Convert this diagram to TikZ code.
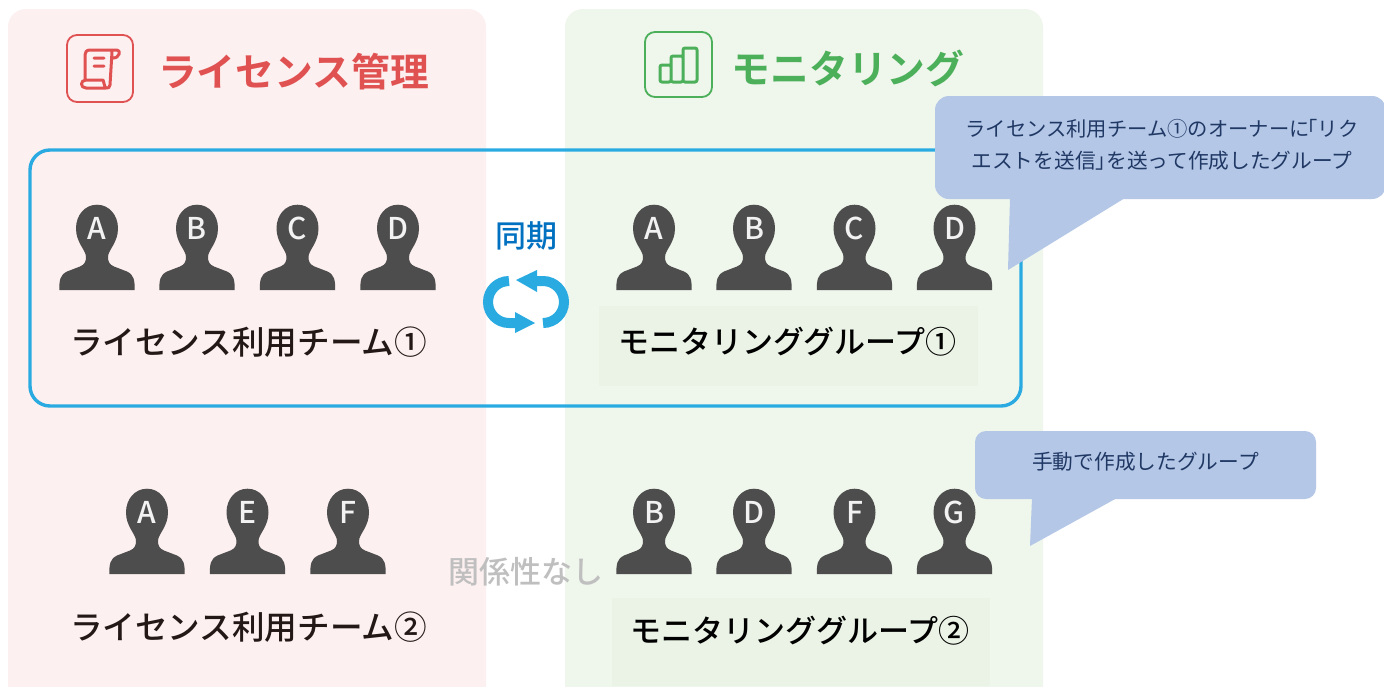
\documentclass[tikz,border=0pt]{standalone}
\usepackage{fontspec}
\setmainfont{Noto Sans CJK JP}
\newfontfamily\jpbold{Noto Sans CJK JP Bold}
\newfontfamily\jpmed{Noto Sans CJK JP Medium}
\definecolor{panelred}{HTML}{FDF0F0}
\definecolor{panelgreen}{HTML}{EFF6EC}
\definecolor{boxgreen}{HTML}{EAF3E5}
\definecolor{titlered}{HTML}{E05252}
\definecolor{titlegreen}{HTML}{4CAF5A}
\definecolor{syncblue}{HTML}{29ABE2}
\definecolor{syncword}{HTML}{0070C0}
\definecolor{callout}{HTML}{B4C7E7}
\definecolor{callouttext}{HTML}{203864}
\definecolor{persongray}{HTML}{4D4D4D}
\definecolor{inktext}{HTML}{231815}
\tikzset{
  txt/.style={inner sep=0pt,outer sep=0pt,anchor=center},
  panel/.style={fill=#1,draw=none,rounded corners=18pt},
  iconbox/.style={draw=#1,line width=1.8pt,rounded corners=10pt},
  iconline/.style={draw=#1,line width=3pt,line cap=round,line join=round},
  persontxt/.style={txt,text=white!95!black,font=\jpmed\fontsize{30}{30}\selectfont},
  teamlabel/.style={txt,text=inktext,font=\jpmed\fontsize{32.6}{32.6}\selectfont},
  grouplabel/.style={txt,text=black,font=\jpmed\fontsize{31}{31}\selectfont},
  titlelabel/.style={txt,text=#1,font=\jpbold\fontsize{38.8}{38.8}\selectfont},
  calloutshape/.style={fill=callout,draw=none},
  calloutlabel/.style={txt,text=callouttext,align=center,font=\fontsize{20.7}{32.5}\selectfont},
  syncarrow/.style={draw=syncblue,line width=10pt,line cap=butt},
}
\newcommand{\personfig}[4]{%
  \fill[persongray,shift={(#2,#3)}] (-37.7,0) .. controls (-37.7,-10) and (-37,-15) .. (-30,-18.5) -- (-17,-23.5)
    .. controls (-12,-25.5) and (-11,-29) .. (-11,-33) .. controls (-11,-40) and (-21,-47) .. (-21,-61.7)
    .. controls (-21,-75) and (-12,-85.3) .. (0,-85.3) .. controls (12,-85.3) and (21,-75) .. (21,-61.7)
    .. controls (21,-47) and (11,-40) .. (11,-33) .. controls (11,-29) and (12,-25.5) .. (17,-23.5)
    -- (30,-18.5) .. controls (37,-15) and (37.7,-10) .. (37.7,0) -- cycle;
  \node[persontxt] (#1) at (#2,#3-62) {#4};%
}
\begin{document}
\begin{tikzpicture}[x=1pt,y=-1pt]
\useasboundingbox (0,0) rectangle (1384,686);
\clip (0,0) rectangle (1384,686);
\fill[white] (0,0) rectangle (1384,686);
% panels
\path[panel=panelred] (8,9) rectangle (486,710);
\path[panel=panelgreen] (565,9) rectangle (1043,710);
% inner group boxes
\fill[boxgreen] (599,306) rectangle (978,386);
\fill[boxgreen] (612,598) rectangle (990,686);
% title icons
\draw[iconbox=titlered] (67,35) rectangle (133,102);
\draw[iconline=titlered] (117,50) -- (90,50) .. controls (86.5,50) and (85,52) .. (85,55) -- (85,80)
  (117,50) .. controls (121,50) and (120,58) .. (113,58)
  (112,52) -- (110,85) .. controls (110,88) and (108,88) .. (106,88) -- (86,88)
  .. controls (80,88) and (80,80) .. (86,80) -- (103,80) .. controls (104,82) and (104,86) .. (106,88)
  (94,58) -- (104,58) (94,66) -- (104,66);
\draw[iconbox=titlegreen] (645,32) rectangle (712,97);
\draw[iconline=titlegreen,rounded corners=2pt] (660,82) rectangle (671,65)
  (671,82) rectangle (683,56) (683,82) rectangle (697,48);
\node[titlelabel=titlered] (title1) at (293.5,72) {ライセンス管理};
\node[titlelabel=titlegreen] (title2) at (848,68) {モニタリング};
% sync frame
\draw[syncblue,line width=3.4pt,rounded corners=20pt] (30,150) rectangle (1021,406);
% persons
\personfig{p1a}{97}{290}{A}\personfig{p1b}{197}{290}{B}\personfig{p1c}{297.5}{290}{C}\personfig{p1d}{398}{290}{D}
\personfig{m1a}{654}{290}{A}\personfig{m1b}{754}{290}{B}\personfig{m1c}{854.5}{290}{C}\personfig{m1d}{954.5}{290}{D}
\personfig{p2a}{147}{574}{A}\personfig{p2e}{247.5}{574}{E}\personfig{p2f}{348}{574}{F}
\personfig{m2b}{654}{574}{B}\personfig{m2d}{754}{574}{D}\personfig{m2f}{854.5}{574}{F}\personfig{m2g}{954.5}{574}{G}
% labels
\node[teamlabel] (team1) at (248.5,342) {ライセンス利用チーム①};
\node[teamlabel] (team2) at (248.5,627) {ライセンス利用チーム②};
\node[grouplabel] (group1) at (787.5,342) {モニタリンググループ①};
\node[grouplabel] (group2) at (800,631) {モニタリンググループ②};
% sync
\node[txt,text=syncword,font=\jpmed\fontsize{31}{31}\selectfont] (sync) at (526,236) {同期};
\draw[syncarrow] (536,281) -- (543,281) .. controls (554.6,281) and (564,290.4) .. (564,302) .. controls (564,313.6) and (554.6,323) .. (543,323);
\draw[syncarrow] (509,281) .. controls (497.4,281) and (488,290.4) .. (488,302) .. controls (488,313.6) and (497.4,323) .. (509,323) -- (516,323);
\fill[syncblue] (516,280) -- (537,270) -- (537,292) -- cycle;
\fill[syncblue] (535,323) -- (515,312) -- (515,333) -- cycle;
\node[txt,text=black!25,font=\jpmed\fontsize{31}{31}\selectfont] (nolink) at (526,572) {関係性なし};
% callouts
\path[calloutshape,rounded corners=14pt] (935,96) rectangle (1386,199);
\path[calloutshape] (1010,198) -- (1008,270) -- (1125,198) -- cycle;
\node[calloutlabel] (note1) at (1162,145) {{\fontsize{20.3}{32.5}\selectfont ライセンス利用チーム①のオーナーに\kern-12pt「リク}\\エストを送信」\kern-10pt を送って作成したグループ};
\path[calloutshape,rounded corners=11pt] (975,431) rectangle (1316,499);
\path[calloutshape] (1032,498) -- (1030,546) -- (1117,498) -- cycle;
\node[calloutlabel] (note2) at (1145.5,462) {手動で作成したグループ};
\end{tikzpicture}
\end{document}
